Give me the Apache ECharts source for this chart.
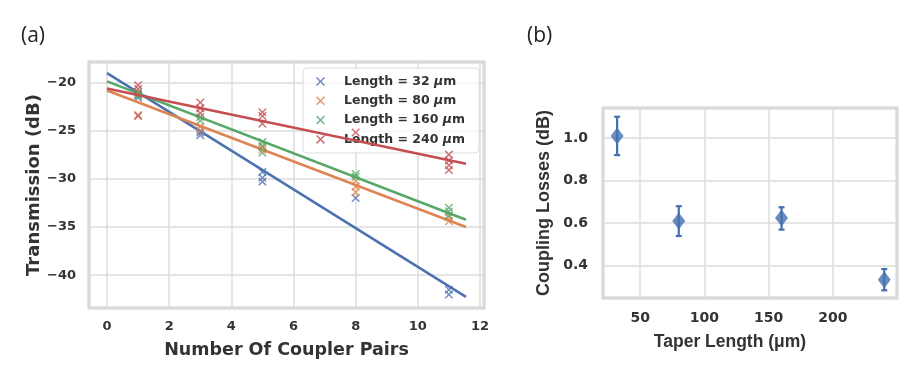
<!DOCTYPE html>
<html>
<head>
<meta charset="utf-8">
<script src="https://cdn.jsdelivr.net/npm/echarts@6/dist/echarts.min.js"></script>
<style>
  html, body { margin: 0; padding: 0; background: #fff; }
  #chart { width: 918px; height: 375px; }
</style>
</head>
<body>
<div id="chart"></div>
<script>
// panel (a): transmission vs number of coupler pairs
const lengthNames = ["32", "80", "160", "240"];
const colors = ["#4C72B0", "#DD8452", "#55A868", "#C44E52"];

const pairs32 = [1, 1, 3, 3, 5, 5, 5, 8, 11, 11];
const trans32 = [-21.3, -21.6, -25.2, -25.5, -29.3, -29.9, -30.3, -32.0, -41.5, -42.0];
const pairs80 = [1, 1, 3, 3, 5, 5, 8, 8, 8, 11, 11];
const trans80 = [-21.2, -23.4, -24.6, -25.0, -26.7, -27.0, -30.2, -30.8, -31.4, -34.0, -34.4];
const pairs160 = [1, 1, 3, 3, 5, 5, 5, 8, 8, 11, 11, 11];
const trans160 = [-21.0, -21.4, -23.6, -24.0, -26.2, -26.6, -27.3, -29.5, -29.8, -33.0, -33.4, -33.8];
const pairs240 = [1, 1, 1, 3, 3, 3, 5, 5, 5, 8, 11, 11, 11, 11];
const trans240 = [-20.3, -20.7, -23.5, -22.1, -22.7, -23.2, -23.1, -23.5, -24.3, -25.2, -27.5, -28.1, -28.6, -29.1];

// fitted lines: value at fitX[0] and fitX[1]
const fitX = [0, 11.55];
const fitStart = [-19.05, -20.85, -19.9, -20.65];
const fitEnd = [-42.25, -35.0, -34.25, -28.45];

// panel (b): coupling losses vs taper length
const taperLengths = [32, 80, 160, 240];
const couplingLoss = [1.01, 0.61, 0.625, 0.335];
const lossLow = [0.92, 0.54, 0.57, 0.285];
const lossHigh = [1.10, 0.68, 0.675, 0.385];

const pairsAll = [pairs32, pairs80, pairs160, pairs240];
const transAll = [trans32, trans80, trans160, trans240];

const xMark = "path://M0,1.2L1.2,0L5,3.8L8.8,0L10,1.2L6.2,5L10,8.8L8.8,10L5,6.2L1.2,10L0,8.8L3.8,5Z";
const tickFont = { fontFamily: "DejaVu Sans", fontWeight: "bold", color: "#333" };
const minus = v => String(v).replace("-", "\u2212");

const chart = echarts.init(document.getElementById("chart"));

const series = [];
lengthNames.forEach((n, i) => {
  series.push({
    type: "scatter",
    name: "Length = " + n,
    xAxisIndex: 0, yAxisIndex: 0,
    symbol: xMark,
    symbolSize: 8.5,
    itemStyle: { color: colors[i] },
    data: pairsAll[i].map((x, k) => [x, transAll[i][k]]),
    z: 2 + i
  });
  series.push({
    type: "line",
    xAxisIndex: 0, yAxisIndex: 0,
    showSymbol: false,
    lineStyle: { color: colors[i], width: 2.5 },
    data: [[fitX[0], fitStart[i]], [fitX[1], fitEnd[i]]],
    z: 2 + i,
    silent: true
  });
});

series.push({
  type: "custom",
  xAxisIndex: 1, yAxisIndex: 1,
  data: taperLengths.map((l, i) => [l, lossLow[i], lossHigh[i]]),
  encode: { x: 0, y: [1, 2] },
  renderItem: (params, api) => {
    const x = api.value(0);
    const lo = api.coord([x, api.value(1)]);
    const hi = api.coord([x, api.value(2)]);
    const st = { stroke: "#4470B0", lineWidth: 2.2 };
    return {
      type: "group",
      children: [
        { type: "line", shape: { x1: lo[0], y1: lo[1], x2: hi[0], y2: hi[1] }, style: st },
        { type: "line", shape: { x1: lo[0] - 3, y1: lo[1], x2: lo[0] + 3, y2: lo[1] }, style: st },
        { type: "line", shape: { x1: hi[0] - 3, y1: hi[1], x2: hi[0] + 3, y2: hi[1] }, style: st }
      ]
    };
  }
});
series.push({
  type: "scatter",
  xAxisIndex: 1, yAxisIndex: 1,
  symbol: "diamond",
  symbolSize: [13, 17],
  itemStyle: { color: "#4470B0" },
  data: taperLengths.map((l, i) => [l, couplingLoss[i]]),
  z: 5
});

const splitStyle = { show: true, lineStyle: { color: "#dcdcdc", width: 1.5 } };

chart.setOption({
  animation: false,
  backgroundColor: "#fff",
  grid: [
    { left: 89, top: 62, width: 395, height: 246, show: true, borderColor: "#cfcfcf", borderWidth: 3, backgroundColor: "transparent" },
    { left: 603, top: 108, width: 294, height: 190, show: true, borderColor: "#cfcfcf", borderWidth: 3, backgroundColor: "transparent" }
  ],
  legend: {
    orient: "vertical",
    left: 303, top: 68,
    padding: [7, 14, 7, 13],
    backgroundColor: "rgba(255,255,255,0.8)",
    borderColor: "#dddddd",
    borderWidth: 1,
    borderRadius: 4,
    itemWidth: 9, itemHeight: 9,
    itemGap: 6.3,
    data: lengthNames.map(n => ({ name: "Length = " + n, icon: xMark })),
    formatter: name => "{a|" + name + " }{i|\u03bc}{a|m}",
    textStyle: {
      padding: [0, 0, 0, 14],
      rich: {
        a: { fontFamily: "DejaVu Sans", fontWeight: "bold", fontSize: 12.5, lineHeight: 14, color: "#333" },
        i: { fontFamily: "DejaVu Sans", fontWeight: "bold", fontStyle: "italic", fontSize: 12.5, lineHeight: 14, color: "#333" }
      }
    }
  },
  xAxis: [
    {
      type: "value", gridIndex: 0, min: -0.58, max: 12.13, splitNumber: 6,
      axisLine: { show: false }, axisTick: { show: false },
      axisLabel: Object.assign({ fontSize: 13, margin: 12, showMinLabel: false, showMaxLabel: false,
        formatter: v => (Math.abs(v % 2) < 1e-6 ? String(v) : "") }, tickFont),
      splitLine: splitStyle,
      name: "Number Of Coupler Pairs", nameLocation: "middle", nameGap: 33,
      nameTextStyle: { fontFamily: "DejaVu Sans", fontWeight: "bold", fontSize: 17.5, color: "#333" }
    },
    {
      type: "value", gridIndex: 1, min: 21, max: 249.9, splitNumber: 5,
      axisLine: { show: false }, axisTick: { show: false },
      axisLabel: Object.assign({ fontSize: 14, margin: 13, showMinLabel: false, showMaxLabel: false,
        formatter: v => (Math.abs(v % 50) < 1e-6 ? String(v) : "") }, tickFont),
      splitLine: splitStyle,
      name: "Taper Length (\u03bcm)", nameLocation: "middle", nameGap: 35,
      nameTextStyle: { fontFamily: "Liberation Sans", fontWeight: "bold", fontSize: 17.5, color: "#333", padding: [0, 40, 0, 0] }
    }
  ],
  yAxis: [
    {
      type: "value", gridIndex: 0, min: -43.4, max: -17.9, splitNumber: 5,
      axisLine: { show: false }, axisTick: { show: false },
      axisLabel: Object.assign({ fontSize: 13, margin: 13, showMinLabel: false, showMaxLabel: false,
        formatter: v => (Math.abs(v % 5) < 1e-6 ? minus(v) : "") }, tickFont),
      splitLine: splitStyle,
      name: "Transmission (dB)", nameLocation: "middle", nameGap: 46,
      nameTextStyle: { fontFamily: "DejaVu Sans", fontWeight: "bold", fontSize: 18, color: "#333" }
    },
    {
      type: "value", gridIndex: 1, min: 0.249, max: 1.141, splitNumber: 5,
      axisLine: { show: false }, axisTick: { show: false },
      axisLabel: Object.assign({ fontSize: 14, margin: 15, showMinLabel: false, showMaxLabel: false,
        formatter: v => (Math.abs(Math.round(v * 10) - v * 10) < 1e-6 && Math.round(v * 10) % 2 === 0 ? v.toFixed(1) : "") }, tickFont),
      splitLine: splitStyle,
      name: "Coupling Losses (dB)", nameLocation: "middle", nameGap: 50,
      nameTextStyle: { fontFamily: "Liberation Sans", fontWeight: "bold", fontSize: 18, color: "#333" }
    }
  ],
  graphic: [
    { type: "text", left: 21, top: 26, style: { text: "(a)", font: "21px 'Open Sans'", fill: "#222" } },
    { type: "text", left: 527, top: 26, style: { text: "(b)", font: "21px 'Open Sans'", fill: "#222" } }
  ],
  series: series
});
</script>
</body>
</html>
